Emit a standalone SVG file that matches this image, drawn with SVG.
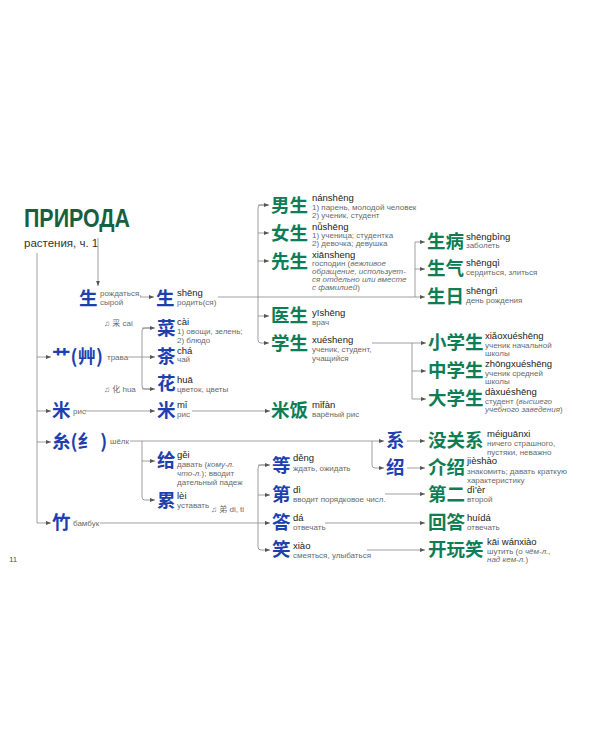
<svg xmlns="http://www.w3.org/2000/svg" width="600" height="750" viewBox="0 0 600 750">
<defs>
<marker id="a" markerWidth="5" markerHeight="5" refX="5" refY="2.5" orient="auto" markerUnits="userSpaceOnUse"><path d="M0,0.6 L5,2.5 L0,4.4z" fill="#555"/></marker>
<style>
.cb{font-family:"Noto Sans CJK SC","Noto Sans",sans-serif;font-weight:700;font-size:18.5px;fill:#1f3fae}
.cg{font-family:"Noto Sans CJK SC","Noto Sans",sans-serif;font-weight:700;font-size:18.5px;fill:#0e7d55}
.py{font-family:"Liberation Sans","Noto Sans",sans-serif;font-size:9.5px;fill:#222}
.ru{font-family:"Liberation Sans","Noto Sans","Noto Sans CJK SC",sans-serif;font-size:8px;fill:#6a6a6a}
.it{font-style:italic}
.ln{fill:none;stroke:#888;stroke-width:0.8}
.ar{fill:none;stroke:#888;stroke-width:0.8;marker-end:url(#a)}
</style>
</defs>
<rect width="600" height="750" fill="#fff"/>

<g id="title">
<text x="24" y="227" font-family="Liberation Sans, sans-serif" font-size="25" font-weight="bold" fill="#17603f" textLength="106" lengthAdjust="spacingAndGlyphs">ПРИРОДА</text>
<text x="24" y="247" font-family="Liberation Sans, sans-serif" font-size="11.5" fill="#333">растения, ч. 1</text>
</g>

<g id="connectors">
<path class="ar" d="M98,238 V286"/>
<path class="ln" d="M37,253 V523"/>
<path class="ar" d="M37,357 H51"/>
<path class="ar" d="M37,411 H51"/>
<path class="ar" d="M37,442 H51"/>
<path class="ar" d="M37,523 H51"/>
<path class="ar" d="M140,297 H154"/>
<path class="ar" d="M218,297 H425"/>
<path class="ln" d="M268,205 H261 Q258,205 258,208 V340 Q258,343 261,343"/>
<path class="ar" d="M258,205 H269"/>
<path class="ar" d="M258,233 H269"/>
<path class="ar" d="M258,261 H269"/>
<path class="ar" d="M258,316 H269"/>
<path class="ar" d="M261,343 H269"/>
<path class="ln" d="M415,242 V297"/>
<path class="ar" d="M415,242 H425"/>
<path class="ar" d="M415,269 H425"/>
<path class="ar" d="M372,343 H426"/>
<path class="ln" d="M412,343 V399"/>
<path class="ar" d="M412,371 H426"/>
<path class="ar" d="M412,399 H426"/>
<path class="ar" d="M128,357 H155"/>
<path class="ln" d="M152,328 H145 Q142,328 142,331 V386 Q142,389 145,389 H150"/>
<path class="ar" d="M142,328 H155"/>
<path class="ar" d="M142,389 H155"/>
<path class="ar" d="M85,411 H155"/>
<path class="ar" d="M192,411 H270"/>
<path class="ar" d="M130,441 H384"/>
<path class="ln" d="M142,441 V497 Q142,500 145,500"/>
<path class="ar" d="M142,461 H155"/>
<path class="ar" d="M145,500 H155"/>
<path class="ln" d="M372,441 V465 Q372,468 375,468"/>
<path class="ar" d="M375,468 H384"/>
<path class="ar" d="M407,441 H425"/>
<path class="ar" d="M407,468 H425"/>
<path class="ar" d="M100,523 H270"/>
<path class="ln" d="M268,465 H261 Q258,465 258,468 V547 Q258,550 261,550"/>
<path class="ar" d="M258,465 H270"/>
<path class="ar" d="M258,495 H270"/>
<path class="ar" d="M261,550 H270"/>
<path class="ar" d="M385,494 H425"/>
<path class="ar" d="M325,523 H425"/>
<path class="ar" d="M367,550 H425"/>
</g>

<g id="n-sheng0">
<text class="cb" x="79" y="305">生</text>
<text class="ru" x="100" y="296">рождаться,</text>
<text class="ru" x="100" y="305">сырой</text>
</g>
<g id="n-sheng">
<text class="cb" x="156" y="305">生</text>
<text class="py" x="177" y="296">shēng</text>
<text class="ru" x="177" y="305">родить(ся)</text>
</g>
<g id="n-nansheng">
<text class="cg" x="271" y="212">男生</text>
<text class="py" x="312" y="201">nánshēng</text>
<text class="ru" x="312" y="210">1) парень, молодой человек</text>
<text class="ru" x="312" y="218">2) ученик, студент</text>
</g>
<g id="n-nusheng">
<text class="cg" x="271" y="240">女生</text>
<text class="py" x="312" y="230">nǚshēng</text>
<text class="ru" x="312" y="238">1) ученица; студентка</text>
<text class="ru" x="312" y="246">2) девочка; девушка</text>
</g>
<g id="n-xiansheng">
<text class="cg" x="271" y="268">先生</text>
<text class="py" x="312" y="258">xiānsheng</text>
<text class="ru" x="312" y="266">господин (<tspan class="it">вежливое</tspan></text>
<text class="ru it" x="312" y="274">обращение, использует-</text>
<text class="ru it" x="312" y="282">ся отдельно или вместе</text>
<text class="ru" x="312" y="290"><tspan class="it">с фамилией</tspan>)</text>
</g>
<g id="n-yisheng">
<text class="cg" x="271" y="322">医生</text>
<text class="py" x="312" y="316">yīshēng</text>
<text class="ru" x="312" y="325">врач</text>
</g>
<g id="n-xuesheng">
<text class="cg" x="271" y="350">学生</text>
<text class="py" x="312" y="343">xuésheng</text>
<text class="ru" x="312" y="352">ученик, студент,</text>
<text class="ru" x="312" y="361">учащийся</text>
</g>
<g id="n-shengbing">
<text class="cg" x="427" y="248">生病</text>
<text class="py" x="466" y="240">shēngbìng</text>
<text class="ru" x="466" y="248">заболеть</text>
</g>
<g id="n-shengqi">
<text class="cg" x="427" y="275">生气</text>
<text class="py" x="466" y="266">shēngqì</text>
<text class="ru" x="466" y="275">сердиться, злиться</text>
</g>
<g id="n-shengri">
<text class="cg" x="427" y="303">生日</text>
<text class="py" x="466" y="294">shēngrì</text>
<text class="ru" x="466" y="303">день рождения</text>
</g>
<g id="n-xiaoxuesheng">
<text class="cg" x="428" y="349">小学生</text>
<text class="py" x="485" y="339">xiǎoxuéshēng</text>
<text class="ru" x="485" y="348">ученик начальной</text>
<text class="ru" x="485" y="356">школы</text>
</g>
<g id="n-zhongxuesheng">
<text class="cg" x="428" y="377">中学生</text>
<text class="py" x="485" y="367">zhōngxuéshēng</text>
<text class="ru" x="485" y="376">ученик средней</text>
<text class="ru" x="485" y="384">школы</text>
</g>
<g id="n-daxuesheng">
<text class="cg" x="428" y="405">大学生</text>
<text class="py" x="485" y="395">dàxuéshēng</text>
<text class="ru" x="485" y="404">студент (<tspan class="it">высшего</tspan></text>
<text class="ru" x="485" y="412"><tspan class="it">учебного заведения</tspan>)</text>
</g>

<g id="n-cao">
<text class="cb" x="52" y="363">艹(艸)</text>
<text class="ru" x="107" y="360">трава</text>
</g>
<g id="note-cai"><text class="ru" x="104" y="326">♫ 采 cai</text></g>
<g id="note-hua"><text class="ru" x="104" y="392">♫ 化 hua</text></g>
<g id="n-cai">
<text class="cb" x="157" y="335">菜</text>
<text class="py" x="177" y="325">cài</text>
<text class="ru" x="177" y="334">1) овощи, зелень;</text>
<text class="ru" x="177" y="343">2) блюдо</text>
</g>
<g id="n-cha">
<text class="cb" x="157" y="363">茶</text>
<text class="py" x="177" y="354">chá</text>
<text class="ru" x="177" y="362">чай</text>
</g>
<g id="n-hua">
<text class="cb" x="157" y="390">花</text>
<text class="py" x="177" y="383">huā</text>
<text class="ru" x="177" y="392">цветок, цветы</text>
</g>

<g id="n-mi0">
<text class="cb" x="52" y="417">米</text>
<text class="ru" x="73" y="414">рис</text>
</g>
<g id="n-mi">
<text class="cb" x="157" y="417">米</text>
<text class="py" x="177" y="408">mǐ</text>
<text class="ru" x="177" y="417">рис</text>
</g>
<g id="n-mifan">
<text class="cg" x="271" y="417">米饭</text>
<text class="py" x="312" y="408">mǐfàn</text>
<text class="ru" x="312" y="417">варёный рис</text>
</g>

<g id="n-si">
<text class="cb" x="52" y="448">糸(纟 )</text>
<text class="ru" x="110" y="444">шёлк</text>
</g>
<g id="n-gei">
<text class="cb" x="157" y="467">给</text>
<text class="py" x="177" y="458">gěi</text>
<text class="ru" x="177" y="467">давать (<tspan class="it">кому-л.</tspan></text>
<text class="ru" x="177" y="476"><tspan class="it">что-л.</tspan>); вводит</text>
<text class="ru" x="177" y="485">дательный падеж</text>
</g>
<g id="n-lei">
<text class="cb" x="157" y="507">累</text>
<text class="py" x="177" y="499">lèi</text>
<text class="ru" x="177" y="508">уставать</text>
</g>
<g id="note-di"><text class="ru" x="211" y="512">♫ 弟 di, ti</text></g>
<g id="n-xi">
<text class="cb" x="386" y="447">系</text>
</g>
<g id="n-shao">
<text class="cb" x="386" y="474">绍</text>
</g>
<g id="n-meiguanxi">
<text class="cg" x="428" y="447">没关系</text>
<text class="py" x="487" y="437">méiguānxi</text>
<text class="ru" x="487" y="446">ничего страшного,</text>
<text class="ru" x="487" y="455">пустяки, неважно</text>
</g>
<g id="n-jieshao">
<text class="cg" x="428" y="474">介绍</text>
<text class="py" x="467" y="464">jièshào</text>
<text class="ru" x="467" y="474">знакомить; давать краткую</text>
<text class="ru" x="467" y="483">характеристику</text>
</g>

<g id="n-zhu">
<text class="cb" x="52" y="529">竹</text>
<text class="ru" x="73" y="526">бамбук</text>
</g>
<g id="n-deng">
<text class="cb" x="272" y="472">等</text>
<text class="py" x="293" y="461">děng</text>
<text class="ru" x="293" y="471">ждать, ожидать</text>
</g>
<g id="n-di">
<text class="cb" x="272" y="501">第</text>
<text class="py" x="293" y="493">dì</text>
<text class="ru" x="293" y="502">вводит порядковое числ.</text>
</g>
<g id="n-da">
<text class="cb" x="272" y="529">答</text>
<text class="py" x="293" y="521">dá</text>
<text class="ru" x="293" y="530">отвечать</text>
</g>
<g id="n-xiao">
<text class="cb" x="272" y="556">笑</text>
<text class="py" x="293" y="549">xiào</text>
<text class="ru" x="293" y="558">смеяться, улыбаться</text>
</g>
<g id="n-dier">
<text class="cg" x="428" y="501">第二</text>
<text class="py" x="467" y="493">dì'èr</text>
<text class="ru" x="467" y="502">второй</text>
</g>
<g id="n-huida">
<text class="cg" x="428" y="529">回答</text>
<text class="py" x="467" y="521">huídá</text>
<text class="ru" x="467" y="530">отвечать</text>
</g>
<g id="n-kaiwanxiao">
<text class="cg" x="428" y="556">开玩笑</text>
<text class="py" x="487" y="545">kāi wánxiào</text>
<text class="ru" x="487" y="554">шутить (о <tspan class="it">чём-л.,</tspan></text>
<text class="ru" x="487" y="562"><tspan class="it">над кем-л.</tspan>)</text>
</g>
<g id="page"><text x="9" y="562" font-family="Liberation Sans, sans-serif" font-size="8" fill="#555">11</text></g>
</svg>
